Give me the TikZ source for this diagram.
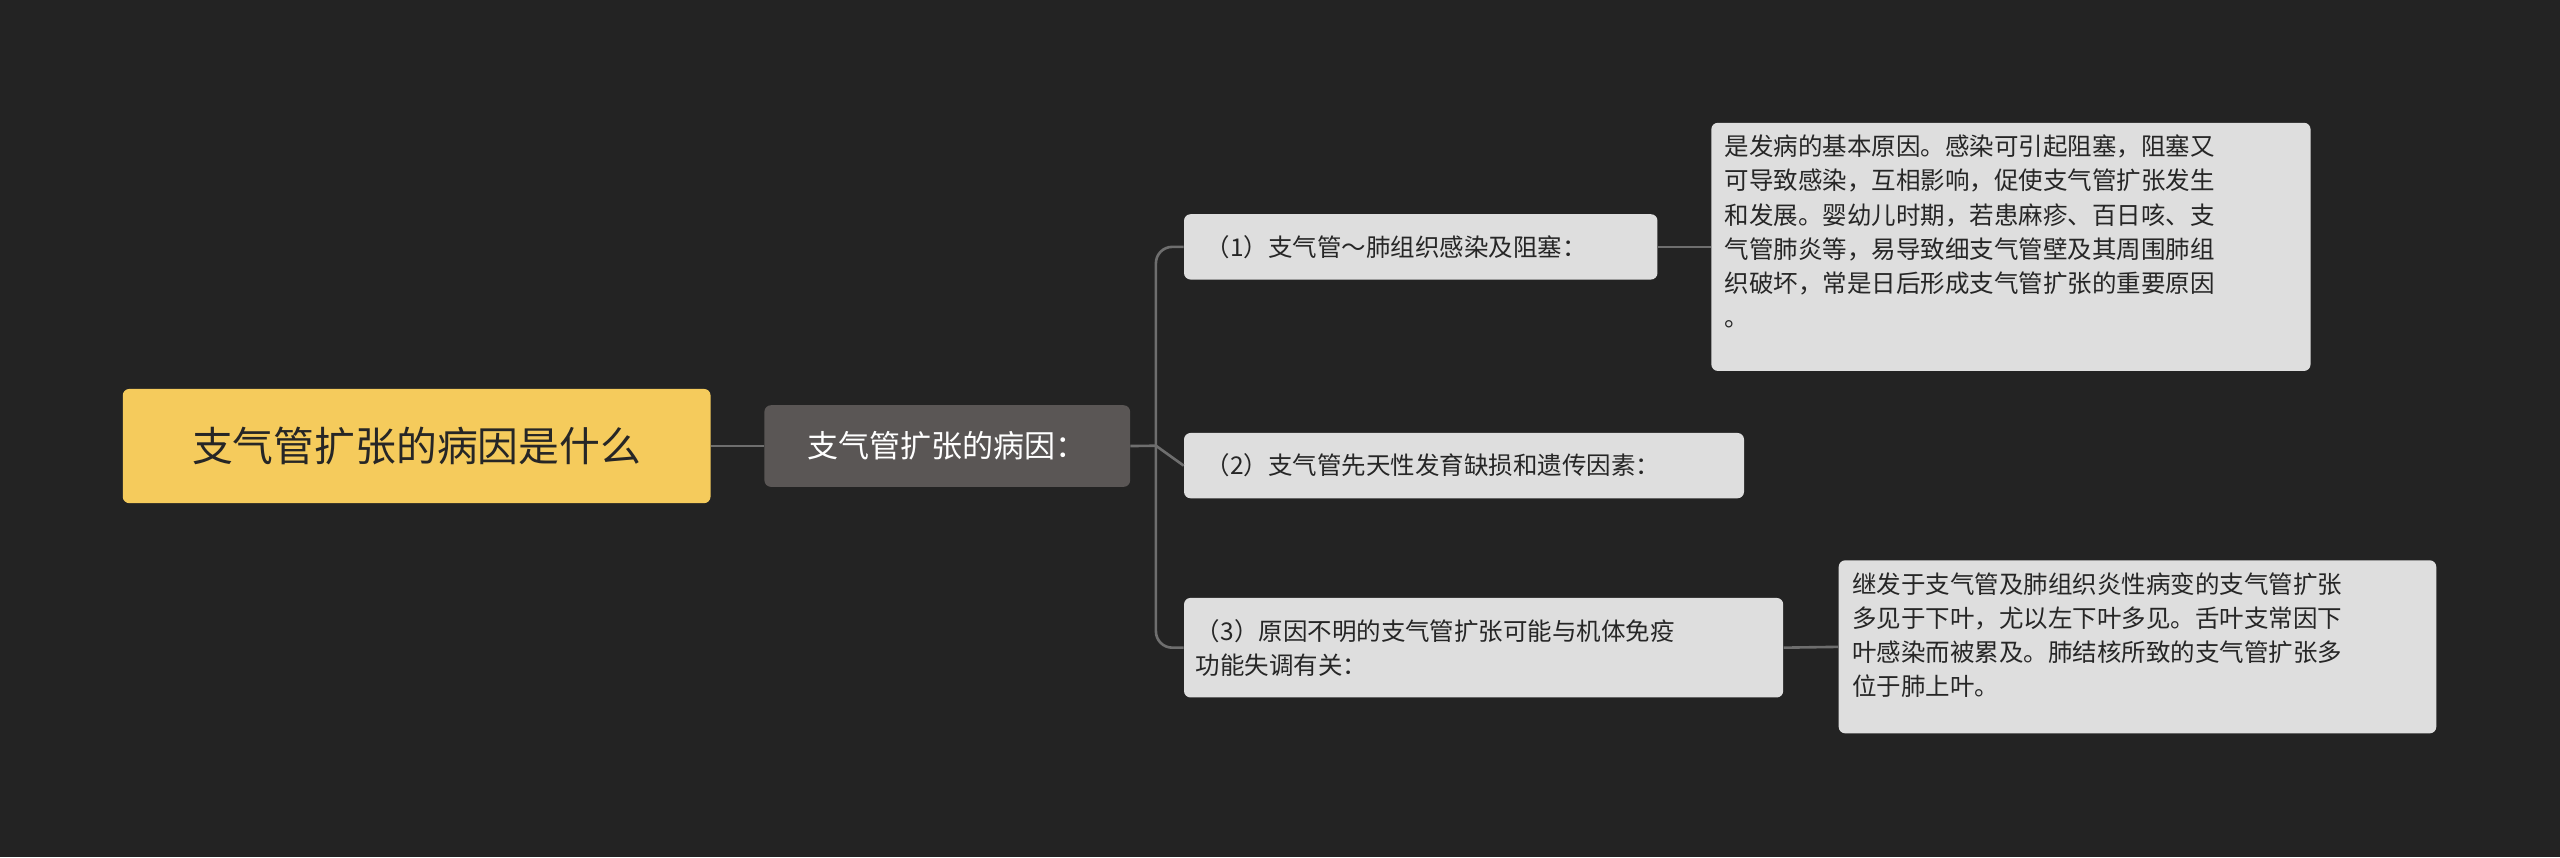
\documentclass[tikz,border=0pt]{standalone}
\usepackage{fontspec}
\setmainfont{Noto Sans CJK SC}
\begin{document}
\begin{tikzpicture}[x=1pt,y=1pt,
 box/.style={anchor=north west,rounded corners=4pt,inner sep=0pt,align=left,text depth=0pt},
 conn/.style={draw=gray!70!black!80,line width=1.6pt}]
\definecolor{bg}{HTML}{232323}
\definecolor{rootc}{HTML}{F5CB5C}
\definecolor{subc}{HTML}{5A5655}
\definecolor{leafc}{HTML}{DEDEDE}
\definecolor{lin}{HTML}{6E6E6E}
\fill[bg] (0,0) rectangle (1568,-525);
\useasboundingbox (0,0) rectangle (1568,-525);
\node[box,fill=rootc,minimum width=360,minimum height=70,text=black!85,font=\fontsize{25}{30}\selectfont] (root) at (75,-238) {};
\node[font=\fontsize{25}{30}\selectfont,text=black!85] at (root.center) {支气管扩张的病因是什么};
\node[box,fill=subc,minimum width=224,minimum height=50] (sub) at (468,-248) {};
\node[font=\fontsize{19}{24}\selectfont,text=white] at (sub.center) {支气管扩张的病因：};
\node[box,fill=leafc,minimum width=290,minimum height=40] (b1) at (725,-131) {};
\node[anchor=west,font=\fontsize{15}{21}\selectfont,text=black!85] at ([xshift=10]b1.west) {（1）支气管～肺组织感染及阻塞：};
\node[box,fill=leafc,minimum width=343,minimum height=40] (b2) at (725,-265) {};
\node[anchor=west,font=\fontsize{15}{21}\selectfont,text=black!85] at ([xshift=10]b2.west) {（2）支气管先天性发育缺损和遗传因素：};
\node[box,fill=leafc,minimum width=367,minimum height=61] (b3) at (725,-366) {};
\node[anchor=west,align=left,font=\fontsize{15}{21}\selectfont,text=black!85] at ([xshift=4]b3.west) {（3）原因不明的支气管扩张可能与机体免疫\\功能失调有关：};
\node[box,fill=leafc,minimum width=367,minimum height=152] (l1) at (1048,-75) {};
\node[anchor=north west,align=left,font=\fontsize{15}{21}\selectfont,text=black!85] at (1053,-79) {是发病的基本原因。感染可引起阻塞，阻塞又\\可导致感染，互相影响，促使支气管扩张发生\\和发展。婴幼儿时期，若患麻疹、百日咳、支\\气管肺炎等，易导致细支气管壁及其周围肺组\\织破坏，常是日后形成支气管扩张的重要原因\\。};
\node[box,fill=leafc,minimum width=366,minimum height=106] (l3) at (1126,-343) {};
\node[anchor=north west,align=left,font=\fontsize{15}{21}\selectfont,text=black!85] at (1131,-347) {继发于支气管及肺组织炎性病变的支气管扩张\\多见于下叶，尤以左下叶多见。舌叶支常因下\\叶感染而被累及。肺结核所致的支气管扩张多\\位于肺上叶。};
\coordinate (sp) at (708,-273);
\draw[lin,line width=1.6pt] (root.east) -- (sub.west);
\draw[lin,line width=1.6pt] (sub.east) -- (sp) -- (b2.west);
\draw[lin,line width=1.6pt,rounded corners=10pt] (sp) |- (b1.west);
\draw[lin,line width=1.6pt,rounded corners=10pt] (sp) |- (b3.west);
\draw[lin,line width=1.6pt] (b1.east) -- (l1.west);
\draw[lin,line width=1.6pt] (b3.east) -- (l3.west);
\end{tikzpicture}
\end{document}
